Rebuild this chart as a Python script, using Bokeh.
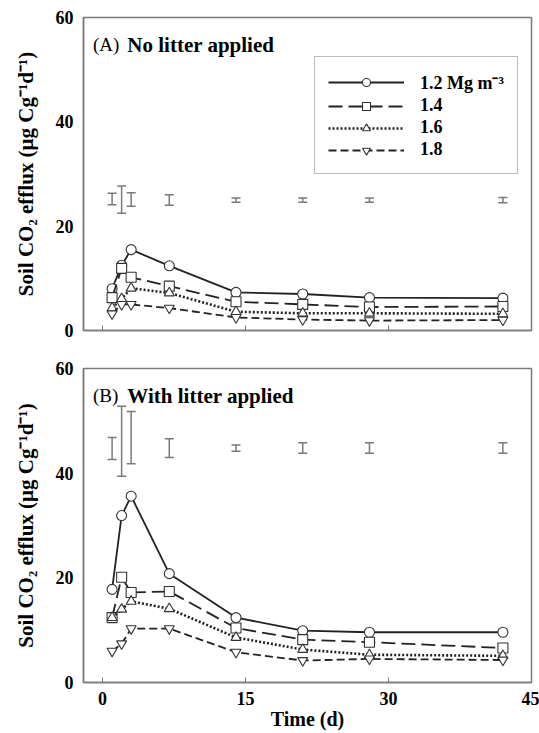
from bokeh.plotting import figure
from bokeh.layouts import column
from bokeh.models import (ColumnDataSource, Whisker, FixedTicker, Label, Range1d,
                          Legend, LegendItem, TeeHead)
from bokeh.embed import file_html
from bokeh.resources import INLINE

# ---------------- data ----------------
days = [1, 2, 3, 7, 14, 21, 28, 42]
density_labels = ["1.2 Mg m\u207b\u00b3", "1.4", "1.6", "1.8"]

# (A) No litter applied
a_12 = [8.0, 12.5, 15.5, 12.4, 7.3, 7.0, 6.3, 6.2]
a_14 = [6.3, 11.9, 10.2, 8.5, 5.5, 5.0, 4.5, 4.6]
a_16 = [4.3, 6.1, 8.1, 7.2, 3.6, 3.3, 3.3, 3.2]
a_18 = [3.2, 5.0, 5.0, 4.3, 2.5, 2.1, 1.9, 2.0]
a_err_mid = [25.2, 25.1, 25.1, 25.0, 25.0, 25.0, 25.0, 25.0]
a_err_half = [1.1, 2.6, 1.3, 1.0, 0.4, 0.4, 0.4, 0.5]

# (B) With litter applied
b_12 = [17.8, 31.9, 35.6, 20.8, 12.4, 9.9, 9.6, 9.6]
b_14 = [12.4, 20.1, 17.2, 17.4, 10.4, 8.2, 7.7, 6.6]
b_16 = [12.4, 14.0, 15.5, 14.1, 8.6, 6.3, 5.3, 5.1]
b_18 = [6.0, 7.4, 10.3, 10.3, 5.8, 4.2, 4.5, 4.3]
b_err_mid = [44.7, 46.1, 46.8, 44.8, 44.8, 44.8, 44.8, 44.8]
b_err_half = [2.1, 6.7, 5.0, 1.8, 0.6, 1.0, 1.0, 1.0]

x_ticks = [0, 15, 30, 45]
y_ticks = [0, 20, 40, 60]

# ---------------- style ----------------
FONT = "Liberation Serif"
FS = "18px"
GRAY = "#7a7a7a"
INK = "#222222"
styles = [
    dict(marker="circle", dash="solid", lw=1.8),
    dict(marker="square", dash="14 6", lw=1.8),
    dict(marker="triangle", dash="2 2", lw=2.6),
    dict(marker="inverted_triangle", dash="8 4", lw=1.8),
]
ylab = "Soil CO\u2082 efflux (\u03bcg Cg\u207b\u00b9d\u207b\u00b9)"


def make_panel(series, err_mid, err_half, tag, title, height, top, bottom,
               show_x_labels, with_legend):
    p = figure(width=539, height=height, output_backend="svg", toolbar_location=None,
               x_range=Range1d(-2, 45), y_range=Range1d(0, 60),
               min_border_left=83, min_border_right=8,
               min_border_top=top, min_border_bottom=bottom)
    p.grid.visible = False
    p.outline_line_color = GRAY
    p.outline_line_width = 1.5
    p.background_fill_color = "white"
    p.border_fill_color = "white"

    # axes
    p.xaxis.ticker = FixedTicker(ticks=x_ticks)
    p.yaxis.ticker = FixedTicker(ticks=y_ticks)
    for ax in (p.xaxis[0], p.yaxis[0]):
        ax.axis_line_color = GRAY
        ax.axis_line_width = 1.5
        ax.major_tick_line_color = GRAY
        ax.minor_tick_line_color = None
        ax.major_label_text_font = FONT
        ax.major_label_text_font_style = "bold"
        ax.major_label_text_font_size = FS
        ax.major_label_text_color = "black"
        ax.axis_label_text_font = FONT
        ax.axis_label_text_font_style = "bold"
        ax.axis_label_text_font_size = "20px"
        ax.axis_label_text_color = "black"
    p.yaxis.axis_label_text_font_size = "21px"
    p.xaxis.major_tick_in = 5
    p.xaxis.major_tick_out = 0
    p.yaxis.major_tick_in = 0
    p.yaxis.major_tick_out = 0
    p.yaxis.major_label_standoff = 10
    p.yaxis.axis_label = ylab
    p.yaxis.axis_label_standoff = 15
    if show_x_labels:
        p.xaxis.axis_label = "Time (d)"
        p.xaxis.major_label_standoff = 9
        p.xaxis.axis_label_standoff = 0
    else:
        p.xaxis.major_label_overrides = {t: "" for t in x_ticks}

    # error bars
    src = ColumnDataSource(dict(x=days,
                                lo=[m - h for m, h in zip(err_mid, err_half)],
                                hi=[m + h for m, h in zip(err_mid, err_half)]))
    wh = Whisker(base="x", lower="lo", upper="hi", source=src, dimension="height",
                 line_color=GRAY, line_width=1.5,
                 upper_head=TeeHead(size=9, line_color=GRAY, line_width=1.5),
                 lower_head=TeeHead(size=9, line_color=GRAY, line_width=1.5))
    p.add_layout(wh)

    items = []
    for vals, st, lab in zip(series, styles, density_labels):
        s = ColumnDataSource(dict(x=days, y=vals))
        lr = p.line("x", "y", source=s, line_color=INK, line_width=st["lw"],
                    line_dash=st["dash"])
        sr = p.scatter("x", "y", source=s, marker=st["marker"], size=10,
                       fill_color="white", line_color="#333333", line_width=1.1)
        items.append(LegendItem(label=lab, renderers=[lr, sr]))

    if with_legend:
        leg = Legend(items=items, location=(231, 156), glyph_width=76, glyph_height=20,
                     spacing=1, padding=13, margin=0, label_standoff=16,
                     label_text_font=FONT, label_text_font_style="bold",
                     label_text_font_size=FS, label_text_color="black",
                     border_line_color=GRAY, border_line_width=1.5,
                     background_fill_color="white", background_fill_alpha=1.0)
        p.add_layout(leg)

    p.add_layout(Label(x=-1.0, y=54.8, text=tag, text_font=FONT, text_font_size="19px",
                       text_color="black", text_baseline="alphabetic"))
    p.add_layout(Label(x=2.6, y=54.8, text=title, text_font=FONT, text_font_size="21px",
                       text_font_style="bold", text_color="black",
                       text_baseline="alphabetic"))
    return p


p1 = make_panel([a_12, a_14, a_16, a_18], a_err_mid, a_err_half, "(A)",
                "No litter applied", 360, 17, 30, False, True)
p2 = make_panel([b_12, b_14, b_16, b_18], b_err_mid, b_err_half, "(B)",
                "With litter applied", 372, 8, 50, True, False)

layout = column(p1, p2, spacing=0)
open("out.html", "w").write(file_html(layout, INLINE))
